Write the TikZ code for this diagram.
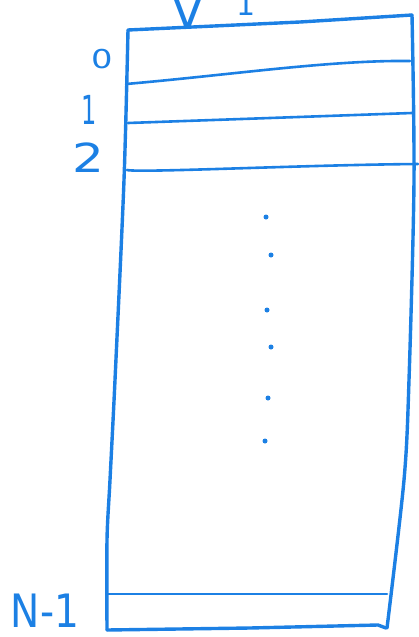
\documentclass[tikz,border=0pt]{standalone}
\usepackage{fontspec}
\setmainfont{DejaVu Sans}
\definecolor{pen}{RGB}{28,128,228}
\begin{document}
\begin{tikzpicture}[x=1pt,y=-1pt,
  ink/.style={draw=pen,line width=3.4pt,line cap=round,line join=round},
  thin/.style={draw=pen,line width=2.6pt,line cap=round},
  lbl/.style={text=pen,inner sep=0pt,font=\fontsize{40}{40}\selectfont},
  dotm/.style={fill=pen,circle,inner sep=0pt,minimum size=5pt}]
\useasboundingbox (0,0) rectangle (419,637);
% outer box
\draw[ink] (128,30) -- (300,22) -- (412,15);
\draw[ink] plot[smooth] coordinates {(412,15) (414,180) (409,380) (404,480) (387,628)};
\draw[ink] plot[smooth] coordinates {(128,30) (124,180) (115,380) (110,480) (107,540) (107,630)};
\draw[ink] (107,630) -- (250,628) -- (378,625) -- (386,628);
% row lines
\draw[thin] (126,84) .. controls (230,75) and (330,60) .. (410,61);
\draw[thin] (128,123) -- (412,113);
\draw[thin] (127,170) .. controls (140,173) and (300,165) .. (418,164);
\draw[thin] (107,594) -- (387,594);
% labels
\node[lbl,xscale=1.3,font=\fontsize{26}{26}\selectfont] (l0) at (102,59) {0};
\node[lbl,xscale=0.6] (l1) at (89,110) {1};
\node[lbl,xscale=1.25] (l2) at (88,158) {2};
\node[lbl,xscale=0.85,font=\fontsize{46}{46}\selectfont] (lN) at (45,611) {N-1};
\node[lbl,anchor=south,font=\fontsize{48}{48}\selectfont] (v) at (188,29) {V};
\node[lbl,anchor=south,font=\fontsize{30}{30}\selectfont] (one) at (246,16) {1};
% dots
\foreach \yy/\xx [count=\i] in {217/266,255/271,310/267,347/271,398/268,441/265}
  \node[dotm] (d\i) at (\xx,\yy) {};
\end{tikzpicture}
\end{document}
